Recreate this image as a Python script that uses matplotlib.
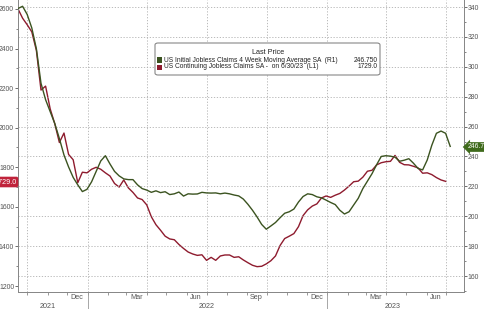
import matplotlib
matplotlib.use("Agg")
import matplotlib.pyplot as plt
import matplotlib.dates as mdates
import matplotlib.transforms as mtransforms
from matplotlib.patches import Rectangle, FancyBboxPatch
import pandas as pd

plt.rcParams['font.family'] = ['Liberation Sans', 'DejaVu Sans']

# weekly series
initial_claims_4wk = [
    339, 340.5, 335, 326, 312, 289, 278, 270, 262, 252,
    241, 233, 226, 221, 216.5, 218, 223, 230, 237, 240.5,
    235, 230, 227, 225, 224.5, 224.5, 221, 218.5, 217.5, 216,
    217, 215.8, 216.4, 214.5, 215, 216.2, 213.5, 215, 214.8, 214.9,
    216, 215.6, 215.5, 215.6, 215, 215.5, 215, 214.2, 213.6, 211.5,
    208, 204, 199.5, 194.5, 191.3, 193.5, 195.8, 199, 202, 203,
    204.8, 209.5, 213.2, 215, 214.5, 213, 212.3, 210.8, 209.2, 207.8,
    204, 201.5, 203, 207.5, 212, 218.5, 223.5, 228.5, 234.5, 240,
    240.5, 240.2, 239.5, 236.8, 237.5, 238.5, 235.5, 232, 231, 237.6,
    247.5, 255.5, 257, 255.5, 246.75,
]
continuing_claims = [
    2600, 2553, 2520, 2484, 2390, 2190, 2210, 2095, 2020, 1925,
    1973, 1865, 1838, 1722, 1775, 1772, 1790, 1800, 1790, 1772,
    1756, 1718, 1700, 1736, 1696, 1673, 1645, 1637, 1610, 1550,
    1510, 1482, 1452, 1438, 1434, 1410, 1390, 1372, 1362, 1355,
    1358, 1330, 1345, 1330, 1352, 1357, 1357, 1345, 1348, 1332,
    1318, 1305, 1298, 1300, 1312, 1328, 1352, 1405, 1440, 1452,
    1465, 1500, 1556, 1585, 1604, 1615, 1645, 1655, 1648, 1659,
    1668, 1685, 1705, 1727, 1730, 1750, 1780, 1785, 1812, 1823,
    1828, 1830, 1860, 1825, 1813, 1812, 1805, 1797, 1770, 1772,
    1763, 1748, 1736, 1729,
]
initial_dates = pd.date_range("2021-09-17", periods=len(initial_claims_4wk), freq="7D")
continuing_dates = pd.date_range("2021-09-17", periods=len(continuing_claims), freq="7D")

month_labels = ["Dec", "Mar", "Jun", "Sep", "Dec", "Mar", "Jun"]
month_label_dates = ["2021-12-16", "2022-03-16", "2022-06-15", "2022-09-15",
                     "2022-12-16", "2023-03-16", "2023-06-15"]
years = ["2021", "2022", "2023"]
year_label_dates = ["2021-11-01", "2022-07-02", "2023-04-10"]
year_breaks = ["2022-01-01", "2023-01-01"]

green = "#3b5320"
red = "#8e1b2e"
tick_col = "#555555"
fs = 5.2

fig = plt.figure(figsize=(4.85, 3.09), dpi=100)
ax = fig.add_axes([18 / 485, 17 / 309, 446 / 485, 292 / 309])
ax2 = ax.twinx()

ax.plot(continuing_dates, continuing_claims, color=red, lw=1.0, zorder=3)
ax2.plot(initial_dates, initial_claims_4wk, color=green, lw=1.0, zorder=3)

ax.set_xlim(pd.Timestamp("2021-09-17"), pd.Timestamp("2023-07-28"))
ax.set_ylim(1170, 2645)
ax2.set_ylim(149.3, 344.7)

# y ticks
ax.set_yticks(range(1200, 2601, 200))
ax.set_yticks(range(1200, 2601, 100), minor=True)
ax2.set_yticks(range(160, 341, 20))
ax2.set_yticks(range(150, 341, 10), minor=True)
for a in (ax, ax2):
    a.tick_params(axis="y", labelsize=4.9, colors=tick_col, length=2, width=0.6, pad=0.8)
    a.tick_params(axis="y", which="minor", length=1.2, width=0.5, colors=tick_col)
    for s in a.spines.values():
        s.set_color("#888888")
        s.set_linewidth(0.7)
    a.spines["top"].set_visible(False)

# horizontal grid follows the right axis
ax2.grid(axis="y", color="#b0b0b0", ls=(0, (1.5, 2)), lw=0.6)
ax2.set_axisbelow(True)

# x ticks: month starts as ticks, labels mid-month
month_starts = pd.date_range("2021-10-01", "2023-07-01", freq="MS")
ax.set_xticks(month_starts)
ax.set_xticklabels([])
ax.tick_params(axis="x", length=2.5, width=0.6, colors="#888888")
ax.set_xticks(pd.to_datetime(month_label_dates), minor=True)
ax.set_xticklabels(month_labels, minor=True)
ax.tick_params(axis="x", which="minor", length=0, labelsize=fs, labelcolor=tick_col, pad=1.5)

# vertical grid at quarter boundaries
for q in pd.date_range("2021-10-01", "2023-07-01", freq="QS"):
    ax.axvline(q, color="#b0b0b0", ls=(0, (1.5, 2)), lw=0.6, zorder=1)

trans = mtransforms.blended_transform_factory(ax.transData, ax.transAxes)
for lab, d in zip(years, year_label_dates):
    ax.text(pd.Timestamp(d), -0.048, lab, transform=trans, ha="center", va="center",
            fontsize=fs, color=tick_col)
for d in year_breaks:
    ax.plot([pd.Timestamp(d)] * 2, [0, -0.06], transform=trans, color="#999999",
            lw=0.6, clip_on=False)

# last-value tags (the left one runs off the edge, as in the source)
fig.text(16.5 / 485, 1 - 182 / 309, "1729.0", ha="right", va="center", fontsize=fs,
         color="white", bbox=dict(boxstyle="round,pad=0.25", fc="#c0233b", ec="none"))
fig.text(468 / 485, 1 - 147 / 309, "246.7", ha="left", va="center", fontsize=4.9,
         color="white", bbox=dict(boxstyle="larrow,pad=0.2", fc="#3f6a1c", ec="none"))

# legend box
box = FancyBboxPatch((155 / 485, 1 - 75 / 309), 225 / 485, 32 / 309,
                     boxstyle="round,pad=0,rounding_size=0.006", transform=fig.transFigure,
                     fc="white", ec="#777777", lw=0.7, zorder=5)
fig.add_artist(box)
fig.text(268 / 485, 1 - 52 / 309, "Last Price", ha="center", va="center",
         fontsize=fs, color="#222222", zorder=6)
rows = [
    (60, green, "US Initial Jobless Claims 4 Week Moving Average SA  (R1)", "246.750"),
    (67, red, "US Continuing Jobless Claims SA -  on 6/30/23  (L1)", "1729.0"),
]
for y, c, lab, val in rows:
    fig.add_artist(Rectangle((157 / 485, 1 - (y + 2.5) / 309), 5 / 485, 5 / 309,
                             transform=fig.transFigure, fc=c, ec="none", zorder=6))
    fig.text(164 / 485, 1 - y / 309, lab, ha="left", va="center", fontsize=4.8,
             color="#222222", zorder=6)
    fig.text(378 / 485, 1 - y / 309, val, ha="right", va="center", fontsize=4.8,
             color="#222222", zorder=6)

fig.savefig("out.png", dpi=100)
